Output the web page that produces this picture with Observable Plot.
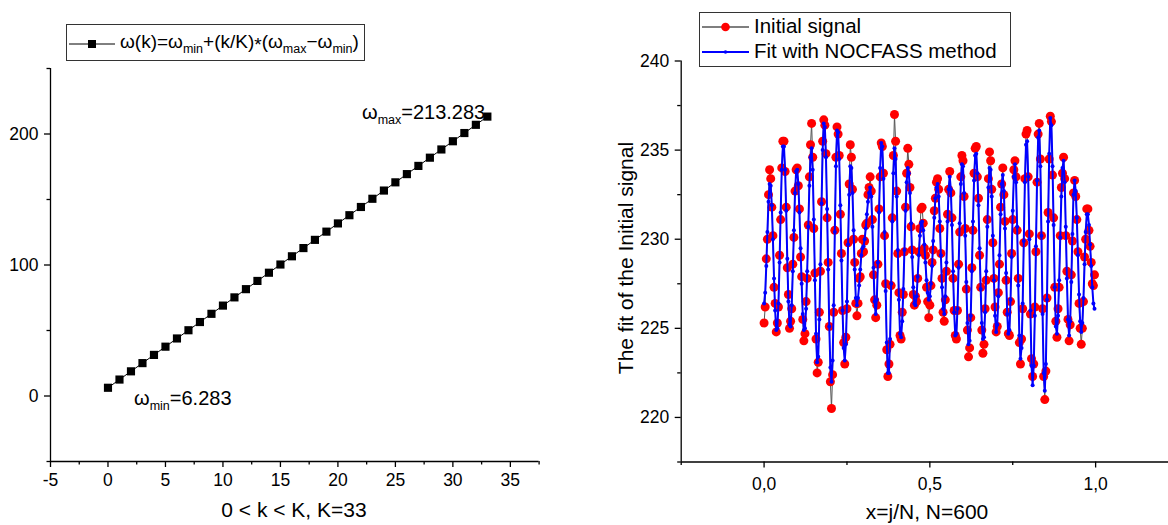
<!DOCTYPE html>
<html><head><meta charset="utf-8">
<script src="https://cdn.jsdelivr.net/npm/d3@7"></script>
<script src="https://cdn.jsdelivr.net/npm/@observablehq/plot@0.6"></script>
<style>
html,body{margin:0;padding:0;background:#fff;overflow:hidden;width:1168px;height:525px}
#root{position:relative;width:1168px;height:525px;font-family:"Liberation Sans",Arial,sans-serif;color:#000;overflow:hidden}
.abs{position:absolute;white-space:nowrap;line-height:20px}
.sub{font-size:12.5px;position:relative;top:5px}
.box{position:absolute;border:1px solid #333;background:#fff;box-sizing:border-box}
</style></head><body><div id="root"></div>
<script>
// ---- left panel data ----
const kValues = [0,1,2,3,4,5,6,7,8,9,10,11,12,13,14,15,16,17,18,19,20,21,22,23,24,25,26,27,28,29,30,31,32,33];
const omegaValues = [6.283,12.556,18.828,25.101,31.374,37.646,43.919,50.192,56.465,62.737,69.010,75.283,81.555,87.828,94.101,100.374,106.646,112.919,119.192,125.464,131.737,138.010,144.283,150.555,156.828,163.101,169.374,175.646,181.919,188.192,194.464,200.737,207.010,213.283];
const leftXTicks = [-5,0,5,10,15,20,25,30,35];
const leftXMinor = [-2.5,2.5,7.5,12.5,17.5,22.5,27.5,32.5,37.5];
const leftYTicks = [0,100,200];
const leftYMinor = [-50,50,150,250];

// ---- right panel data (every 2nd sample j of N=600) ----
const N = 600;
const sampleStep = 2;
const signalInitial = [
225.3,226.2,228.9,230.0,232.5,233.9,233.4,231.8,230.2,227.3,226.4,224.8,
225.3,226.2,229.1,231.1,234.0,235.5,235.5,233.8,231.8,228.4,226.9,225.0,
225.4,226.1,228.6,230.1,232.7,233.9,234.0,233.0,231.7,229.0,227.9,225.5,
224.3,224.7,226.5,227.8,230.8,233.5,235.3,236.5,234.6,230.6,228.1,224.4,
222.5,223.1,225.9,228.2,232.1,235.5,236.7,236.4,234.8,231.2,228.7,225.1,
222.0,220.5,222.4,225.9,230.5,234.6,236.3,235.9,234.7,231.4,229.2,226.0,
224.2,223.0,224.5,226.1,229.8,233.1,235.3,234.6,232.8,230.0,228.7,226.4,
225.7,226.4,227.8,227.9,229.2,230.0,229.3,229.9,230.8,230.9,232.5,232.9,
233.5,232.7,231.1,228.0,226.6,225.6,226.3,228.6,231.7,233.5,235.4,235.2,
233.7,230.2,227.5,223.8,222.3,223.0,224.1,227.4,231.2,234.7,237.0,235.5,
232.7,229.2,227.0,224.6,224.4,225.9,226.9,229.3,231.8,233.7,235.1,234.2,
232.9,230.7,229.4,226.9,226.3,226.8,226.5,227.8,229.3,230.6,231.7,231.8,
230.9,229.5,229.1,227.3,226.5,225.6,226.3,227.4,228.7,229.4,231.6,232.3,
233.2,233.4,232.8,230.6,229.2,227.8,225.9,225.4,226.6,228.2,231.4,232.8,
233.8,232.6,231.2,227.8,226.0,224.6,224.4,226.0,228.6,230.4,233.5,234.7,
234.4,232.4,230.6,227.2,224.9,223.4,223.9,225.6,228.4,230.5,233.7,235.1,
235.2,233.5,232.3,229.1,227.3,224.9,223.6,224.1,226.1,227.7,231.1,233.4,
234.9,234.4,232.8,229.8,227.8,226.2,224.8,225.1,227.0,228.6,231.8,233.1,
234.0,232.5,231.0,227.7,225.9,224.7,224.6,226.5,229.2,231.1,233.9,234.4,
233.5,230.5,227.8,224.2,223.0,224.4,226.1,229.8,233.4,235.9,236.1,233.5,
230.3,225.8,223.3,222.3,223.0,226.2,229.3,233.2,235.9,236.5,234.5,230.2,
226.1,222.3,221.0,222.6,226.7,231.5,234.5,236.9,236.6,233.6,231.2,227.3,
225.4,224.5,226.1,227.3,230.2,232.9,233.7,234.6,233.4,230.2,228.2,225.5,
224.3,225.2,228.0,229.9,232.6,233.3,232.4,231.1,229.3,226.4,225.0,224.1,
225.0,226.5,229.0,230.0,231.7,231.7,230.5,229.6,228.7,227.5,227.4,228.0];
const signalFit = [
226.4,227.0,228.5,230.4,232.1,233.1,233.0,231.9,230.0,227.8,226.0,224.9,
225.0,226.4,228.7,231.5,233.9,235.2,235.2,233.9,231.6,228.9,226.5,225.2,
225.1,226.3,228.2,230.5,232.6,233.8,233.9,233.1,231.5,229.5,227.5,225.8,
224.9,225.0,226.1,228.2,230.7,233.0,234.6,235.1,233.9,231.1,227.7,224.7,
223.1,223.4,225.5,228.6,232.0,235.0,236.5,236.3,234.6,231.7,228.3,225.1,
222.8,222.0,223.2,226.3,230.4,234.1,236.1,236.0,234.5,231.9,228.8,226.0,
223.9,223.2,224.1,226.5,229.7,232.5,234.1,234.0,232.6,230.5,228.3,226.7,
226.3,226.7,227.4,228.3,229.1,229.5,229.6,230.0,230.6,231.4,232.1,232.6,
232.9,232.4,230.7,228.4,226.5,225.8,226.6,228.7,231.5,234.0,235.4,235.2,
233.4,230.4,227.1,224.2,222.5,222.5,224.4,227.5,231.0,233.7,235.1,234.5,
232.4,229.4,226.6,224.7,224.5,225.4,227.2,229.4,231.6,233.2,234.0,233.7,
232.6,230.9,229.0,227.3,226.4,226.3,226.8,227.9,229.1,230.2,230.9,231.0,
230.5,229.7,228.7,227.7,227.0,226.6,226.8,227.5,228.5,229.9,231.2,232.3,
232.9,233.1,232.4,231.0,229.1,227.3,226.1,225.8,226.8,228.7,231.0,232.8,
233.5,232.8,230.8,228.2,225.9,224.6,224.7,226.1,228.4,230.9,233.1,234.2,
234.1,232.6,230.2,227.6,225.3,224.1,224.3,225.7,228.2,231.0,233.3,234.7,
234.8,233.7,231.9,229.5,227.2,225.3,224.4,224.5,225.9,228.2,230.7,232.9,
234.0,233.9,232.4,230.2,227.7,225.7,224.8,225.2,226.8,229.1,231.4,233.1,
233.6,232.7,230.6,228.1,225.8,224.7,224.9,226.6,229.0,231.6,233.5,234.2,
233.2,230.7,227.4,224.6,223.3,223.9,226.4,229.9,233.2,235.3,235.5,233.5,
230.0,226.0,222.9,221.8,222.9,225.7,229.6,233.3,235.7,236.1,234.1,230.2,
225.8,222.5,221.5,223.0,226.6,231.0,234.8,236.8,236.4,234.1,230.8,227.3,
225.1,224.7,225.7,227.7,230.1,232.4,234.0,234.4,233.2,230.7,227.8,225.5,
224.6,225.4,227.6,230.3,232.5,233.3,232.7,231.2,229.1,226.9,225.4,224.8,
225.3,226.7,228.6,230.4,231.4,231.4,230.8,229.7,228.5,227.3,226.4,226.1];
const rightXTicks = [0,0.5,1.0];
const rightXMinor = [-0.25,0.25,0.75,1.25];
const rightYTicks = [220,225,230,235,240];
const rightYMinor = [217.5,222.5,227.5,232.5,237.5];

const root = document.getElementById("root");
const style = {fontFamily:'"Liberation Sans", Arial, sans-serif', fontSize:"17.5px", color:"#000", background:"transparent", overflow:"visible"};
const axisStroke = 1.3;

// ---- left plot ----
const leftData = kValues.map((k,i)=>({k, w: omegaValues[i]}));
const left = Plot.plot({
  width: 560, height: 525,
  marginLeft: 50, marginRight: 21.4, marginTop: 68, marginBottom: 64,
  x: {domain: [-5, 37.5]},
  y: {domain: [-50, 250]},
  style,
  marks: [
    Plot.ruleX([-5], {stroke:"#000", strokeWidth: axisStroke}),
    Plot.ruleY([-50], {stroke:"#000", strokeWidth: axisStroke}),
    Plot.axisX({ticks: leftXTicks, tickSize: 6, tickPadding: 6.5, strokeWidth: axisStroke, label: null, tickFormat: d => String(d)}),
    Plot.axisX({ticks: leftXMinor, tickSize: 3.5, strokeWidth: axisStroke, label: null, tickFormat: () => ""}),
    Plot.axisY({ticks: leftYTicks, tickSize: 6, tickPadding: 6, strokeWidth: axisStroke, label: null, tickFormat: d => String(d)}),
    Plot.axisY({ticks: leftYMinor, tickSize: 3.5, strokeWidth: axisStroke, label: null, tickFormat: () => ""}),
    Plot.line(leftData, {x:"k", y:"w", stroke:"#000", strokeWidth: 1}),
    Plot.dot(leftData, {x:"k", y:"w", symbol:"square", r: 4.6, fill:"#000", stroke:"none"})
  ]
});
left.style.position = "absolute"; left.style.left = "0px"; left.style.top = "0px";
root.appendChild(left);

// ---- right plot ----
const sig = signalFit.map((f,i)=>({x: (i*sampleStep)/N, init: signalInitial[i], fit: f}));
const right = Plot.plot({
  width: 588, height: 525,
  marginLeft: 90.7, marginRight: 0, marginTop: 60.5, marginBottom: 63.5,
  x: {domain: [-0.25, 1.25]},
  y: {domain: [217.5, 240]},
  style,
  marks: [
    Plot.ruleX([-0.25], {stroke:"#000", strokeWidth: axisStroke}),
    Plot.ruleY([217.5], {stroke:"#000", strokeWidth: axisStroke}),
    Plot.axisX({ticks: rightXTicks, tickSize: 6, tickPadding: 9.5, strokeWidth: axisStroke, label: null, tickFormat: d => d.toFixed(1).replace(".", ",")}),
    Plot.axisX({ticks: rightXMinor, tickSize: 3.5, strokeWidth: axisStroke, label: null, tickFormat: () => ""}),
    Plot.axisY({ticks: rightYTicks, tickSize: 6, tickPadding: 6, strokeWidth: axisStroke, label: null, tickFormat: d => String(d)}),
    Plot.axisY({ticks: rightYMinor, tickSize: 3.5, strokeWidth: axisStroke, label: null, tickFormat: () => ""}),
    Plot.line(sig, {x:"x", y:"init", stroke:"#555", strokeWidth: 1}),
    Plot.dot(sig, {x:"x", y:"init", r: 4.5, fill:"#ff0000", stroke:"none"}),
    Plot.line(sig, {x:"x", y:"fit", stroke:"#0000ff", strokeWidth: 2}),
    Plot.dot(sig, {x:"x", y:"fit", r: 2, fill:"#0000ff", stroke:"none"})
  ]
});
right.style.position = "absolute"; right.style.left = "590px"; right.style.top = "0px";
root.appendChild(right);

// ---- texts, legends ----
function add(html, css) {
  const d = document.createElement("div");
  d.className = "abs"; d.innerHTML = html; Object.assign(d.style, css); root.appendChild(d); return d;
}
add("0 &lt; k &lt; K, K=33", {left:"294px", top:"500px", fontSize:"21px", transform:"translateX(-50%)"});
add("x=j/N, N=600", {left:"927px", top:"502px", fontSize:"21px", transform:"translateX(-50%)"});
add("The fit of the Initial signal", {left:"626px", top:"258px", fontSize:"21px", transform:"translate(-50%,-50%) rotate(-90deg)"});
add('ω<span class="sub">max</span>=213.283', {left:"362px", top:"102px", fontSize:"20px"});
add('ω<span class="sub">min</span>=6.283', {left:"134px", top:"388px", fontSize:"20px"});

// left legend
const lb = document.createElement("div"); lb.className = "box";
Object.assign(lb.style, {left:"66px", top:"24px", width:"299px", height:"37px"}); root.appendChild(lb);
add('<svg width="46" height="12" style="vertical-align:middle"><line x1="0" y1="6" x2="46" y2="6" stroke="#000" stroke-width="1"/><rect x="19" y="2" width="8" height="8" fill="#000"/></svg>', {left:"69px", top:"37px", lineHeight:"12px"});
add('ω(k)=ω<span class="sub">min</span>+(k/K)<span style="position:relative;top:3px">*</span>(ω<span class="sub">max</span>−ω<span class="sub">min</span>)', {left:"120px", top:"32px", fontSize:"19px"});

// right legend
const rb = document.createElement("div"); rb.className = "box";
Object.assign(rb.style, {left:"699px", top:"12px", width:"312px", height:"55px"}); root.appendChild(rb);
add('<svg width="47" height="12"><line x1="0" y1="6" x2="47" y2="6" stroke="#555" stroke-width="1.3"/><circle cx="23.5" cy="6" r="4.3" fill="#ff0000"/></svg>', {left:"702px", top:"21px", lineHeight:"12px"});
add('<svg width="47" height="12"><line x1="0" y1="6" x2="47" y2="6" stroke="#0000ff" stroke-width="2"/><circle cx="23.5" cy="6" r="1.8" fill="#0000ff"/></svg>', {left:"702px", top:"46px", lineHeight:"12px"});
add("Initial signal", {left:"754px", top:"16px", fontSize:"20.5px"});
add("Fit with NOCFASS method", {left:"754px", top:"41px", fontSize:"20.5px"});
</script>
</body></html>
